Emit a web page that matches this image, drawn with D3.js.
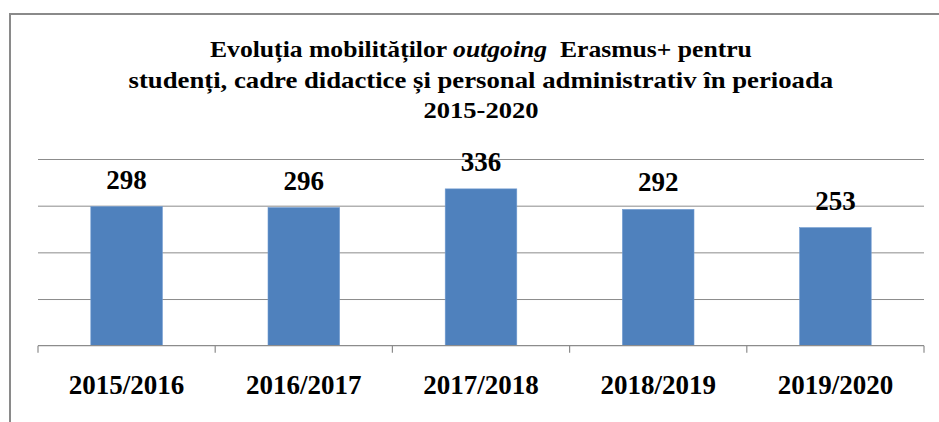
<!DOCTYPE html>
<html>
<head>
<meta charset="utf-8">
<script src="https://cdn.jsdelivr.net/npm/d3@7"></script>
<style>
  body { margin: 0; background: #fff; }
  svg { display: block; }
</style>
</head>
<body>
<div id="chart"></div>
<script>
// chart data
let categories = ["2015/2016", "2016/2017", "2017/2018", "2018/2019", "2019/2020"];
let values = [298, 296, 336, 292, 253];
let gridTicks = [100, 200, 300, 400];
let titleLines = [
    [["Evoluția mobilităților ", "normal"], ["outgoing", "italic"], ["  Erasmus+ pentru", "normal"]],
    [["studenți, cadre didactice și personal administrativ în perioada", "normal"]],
    [["2015-2020", "normal"]]
];

let w = 939;
let h = 422;
let plot = {left: 38, right: 924, top: 159, bottom: 345.7};
let fontFamily = "Liberation Serif";
let barColor = "#4F81BD";
let lineColor = "#8c8c8c";

let svg = d3.select("#chart")
            .append("svg")
            .attr("width", w)
            .attr("height", h);

// outer frame (top + left only visible)
svg.append("path")
   .attr("d", "M10,422 L10,14 L939,14")
   .attr("fill", "none")
   .attr("stroke", "#8a8a8a")
   .attr("stroke-width", 2);

let x = d3.scaleBand()
          .domain(categories)
          .range([plot.left, plot.right])
          .paddingInner(0.596)
          .paddingOuter(0.298);

let y = d3.scaleLinear()
          .domain([0, 400])
          .range([plot.bottom, plot.top]);

// horizontal gridlines
let grid = svg.append("g")
   .attr("transform", "translate(" + plot.left + ",0)")
   .call(d3.axisLeft(y).tickValues(gridTicks).tickSize(-(plot.right - plot.left)).tickFormat(""));
grid.select(".domain").remove();
grid.selectAll("line").attr("stroke", lineColor).attr("stroke-width", 1);

// bars
svg.selectAll("rect.bar")
   .data(values)
   .enter()
   .append("rect")
   .attr("class", "bar")
   .attr("x", function(d, i) { return x(categories[i]); })
   .attr("y", function(d) { return y(d); })
   .attr("width", x.bandwidth())
   .attr("height", function(d) { return y(0) - y(d); })
   .attr("fill", barColor)
   .attr("stroke", "#6f9ad0")
   .attr("stroke-width", 0.6);

// category axis: baseline + ticks between categories
svg.append("line")
   .attr("x1", plot.left).attr("x2", plot.right)
   .attr("y1", y(0)).attr("y2", y(0))
   .attr("stroke", lineColor).attr("stroke-width", 1.2);

let boundaries = d3.range(categories.length + 1).map(function(i) {
    return plot.left + i * x.step();
});
svg.selectAll("line.tick-x")
   .data(boundaries)
   .enter()
   .append("line")
   .attr("class", "tick-x")
   .attr("x1", function(d) { return d; }).attr("x2", function(d) { return d; })
   .attr("y1", y(0)).attr("y2", y(0) + 7)
   .attr("stroke", lineColor).attr("stroke-width", 1.2);

svg.selectAll("text.cat")
   .data(categories)
   .enter()
   .append("text")
   .attr("class", "cat")
   .attr("x", function(d) { return x(d) + x.bandwidth() / 2; })
   .attr("y", 394)
   .attr("text-anchor", "middle")
   .attr("font-family", fontFamily)
   .attr("font-weight", "bold")
   .attr("font-size", 27)
   .attr("fill", "#000")
   .text(function(d) { return d; });

// value labels
svg.selectAll("text.val")
   .data(values)
   .enter()
   .append("text")
   .attr("class", "val")
   .attr("x", function(d, i) { return x(categories[i]) + x.bandwidth() / 2; })
   .attr("y", function(d) { return y(d) - 18; })
   .attr("text-anchor", "middle")
   .attr("font-family", fontFamily)
   .attr("font-weight", "bold")
   .attr("font-size", 27)
   .attr("fill", "#000")
   .text(function(d) { return d; });

// title, three lines, squeezed to the widths seen in the picture
let titleBaselines = [56.7, 87.5, 117.7];
let titleWidths = [542, 705, 115];
let titleCenter = 481;

titleLines.forEach(function(parts, i) {
    let t = svg.append("text")
       .attr("x", 0)
       .attr("y", 0)
       .attr("font-family", fontFamily)
       .attr("font-weight", "bold")
       .attr("font-size", 24)
       .attr("fill", "#000")
       .style("white-space", "pre");
    parts.forEach(function(p) {
        t.append("tspan")
         .attr("font-family", fontFamily)
         .attr("font-style", p[1])
         .text(p[0]);
    });
    let natural = t.node().getComputedTextLength();
    let sx = titleWidths[i] / natural;
    t.attr("transform", "translate(" + (titleCenter - titleWidths[i] / 2) + "," + titleBaselines[i] + ") scale(" + sx + ",1)");
});
</script>
</body>
</html>
